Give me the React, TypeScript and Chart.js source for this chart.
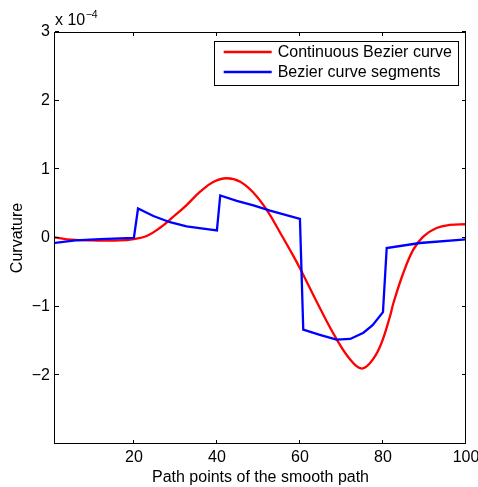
import React, { useEffect, useRef } from "react";
import { Chart, registerables } from "chart.js";
Chart.register(...registerables);

// values in units of 1e-4
const redX = [1, 5, 10, 16.7, 20, 23.1, 26.3, 29.5, 32.7, 35.9, 39.1, 42.3, 45.6, 48.8, 52, 55.2, 58.4, 60, 64.8, 68.8, 72.1, 74.7, 76.9, 79.3, 81.7, 82.5, 84.9, 87.3, 89.7, 92.9, 96.1, 100];
const redY = [0.01, -0.025, -0.035, -0.035, -0.015, 0.03, 0.15, 0.31, 0.48, 0.67, 0.815, 0.87, 0.82, 0.66, 0.41, 0.08, -0.26, -0.44, -1.02, -1.47, -1.77, -1.9, -1.82, -1.58, -1.14, -0.95, -0.51, -0.17, 0.02, 0.145, 0.19, 0.2];

const blueX = [1, 6, 11.8, 20, 21, 24.7, 28.7, 32.7, 36.7, 40, 40.8, 44.8, 48.8, 52.8, 60, 60.8, 64.8, 68.8, 72.1, 75.3, 77.5, 80, 80.9, 88.9, 100];
const blueY = [-0.07, -0.035, -0.015, 0.0, 0.43, 0.32, 0.23, 0.17, 0.135, 0.11, 0.62, 0.54, 0.475, 0.4, 0.28, -1.335, -1.41, -1.48, -1.47, -1.38, -1.27, -1.08, -0.146, -0.073, -0.02];

const xTicks = [20, 40, 60, 80, 100];
const yTicks = [-3, -2, -1, 0, 1, 2, 3];
const seriesNames = ["Continuous Bezier curve", "Bezier curve segments"];
const seriesColors = ["#ff0000", "#0000ff"];
const xTitle = "Path points of the smooth path";
const yTitle = "Curvature";

const FONT = "'Liberation Sans', Arial, Helvetica, sans-serif";

const decorPlugin = {
  id: "decor",
  afterDraw(chart: any) {
    const ctx = chart.ctx;
    const { left, right, top, bottom } = chart.chartArea;
    const xs = chart.scales.x;
    const ys = chart.scales.y;
    ctx.save();
    ctx.strokeStyle = "#000";
    ctx.lineWidth = 1;
    ctx.strokeRect(left - 0.5, top + 0.5, right - left, bottom - top - 1);
    ctx.beginPath();
    for (const v of xTicks) {
      const p = Math.round(xs.getPixelForValue(v)) - 0.5;
      ctx.moveTo(p, bottom);
      ctx.lineTo(p, bottom - 4);
      ctx.moveTo(p, top);
      ctx.lineTo(p, top + 4);
    }
    for (const v of yTicks) {
      const p = Math.round(ys.getPixelForValue(v)) - 0.5;
      ctx.moveTo(left, p);
      ctx.lineTo(left + 4, p);
      ctx.moveTo(right, p);
      ctx.lineTo(right - 4, p);
    }
    ctx.stroke();

    // exponent label
    ctx.fillStyle = "#000";
    ctx.textBaseline = "alphabetic";
    ctx.textAlign = "left";
    ctx.font = "16px " + FONT;
    ctx.fillText("x 10", left, 25);
    const w = ctx.measureText("x 10").width;
    ctx.font = "10.5px " + FONT;
    ctx.fillText("\u22124", left + w + 0.5, 18);

    // legend
    ctx.font = "16px " + FONT;
    const tw = Math.max(...seriesNames.map((s) => ctx.measureText(s).width));
    const boxW = 64 + tw + 6;
    const boxRight = right - 8;
    const boxLeft = boxRight - boxW;
    const boxTop = top + 9;
    const boxH = 44;
    ctx.fillStyle = "#fff";
    ctx.fillRect(boxLeft, boxTop, boxW, boxH);
    ctx.strokeStyle = "#000";
    ctx.lineWidth = 1;
    ctx.strokeRect(Math.round(boxLeft) + 0.5, boxTop + 0.5, Math.round(boxW), boxH);
    seriesNames.forEach((name, i) => {
      const y = boxTop + 11 + i * 20;
      ctx.strokeStyle = seriesColors[i];
      ctx.lineWidth = 2.3;
      ctx.beginPath();
      ctx.moveTo(boxLeft + 10, y);
      ctx.lineTo(boxLeft + 58, y);
      ctx.stroke();
      ctx.fillStyle = "#000";
      ctx.textBaseline = "middle";
      ctx.fillText(name, boxLeft + 64, y + 1);
    });
    ctx.restore();
  },
};

export default function App() {
  const ref = useRef<HTMLCanvasElement>(null);
  useEffect(() => {
    document.body.style.margin = "0";
    const redData = redX.map((x, i) => ({ x, y: redY[i] }));
    const blueData = blueX.map((x, i) => ({ x, y: blueY[i] }));
    const chart = new Chart(ref.current!, {
      type: "line",
      data: {
        datasets: [
          {
            label: seriesNames[0],
            data: redData,
            borderColor: seriesColors[0],
            borderWidth: 2.3,
            pointRadius: 0,
            tension: 0.4,
            order: 1,
          },
          {
            label: seriesNames[1],
            data: blueData,
            borderColor: seriesColors[1],
            borderWidth: 2.3,
            pointRadius: 0,
            tension: 0,
            order: 0,
          },
        ],
      },
      options: {
        animation: false,
        responsive: false,
        maintainAspectRatio: false,
        layout: { padding: { left: 0, top: 32, right: 12, bottom: 0 } },
        plugins: { legend: { display: false }, tooltip: { enabled: false } },
        scales: {
          x: {
            type: "linear",
            min: 1,
            max: 100,
            grid: { display: false, drawTicks: false },
            border: { display: false },
            afterBuildTicks: (s: any) => {
              s.ticks = xTicks.map((v) => ({ value: v }));
            },
            afterFit: (s: any) => {
              s.height = 43;
              s.paddingLeft = 0;
              s.paddingRight = 0;
            },
            ticks: {
              color: "#000",
              font: { family: FONT, size: 16 },
              padding: 4,
              maxRotation: 0,
              autoSkip: false,
              callback: (v: any) => String(v),
            },
            title: {
              display: true,
              text: xTitle,
              color: "#000",
              font: { family: FONT, size: 16 },
              padding: { top: 0, bottom: 0 },
            },
          },
          y: {
            min: -3,
            max: 3,
            grid: { display: false, drawTicks: false },
            border: { display: false },
            afterBuildTicks: (s: any) => {
              s.ticks = yTicks.map((v) => ({ value: v }));
            },
            afterFit: (s: any) => {
              s.width = 55;
              s.paddingTop = 0;
              s.paddingBottom = 0;
            },
            ticks: {
              color: "#000",
              font: { family: FONT, size: 16 },
              padding: 5,
              autoSkip: false,
              callback: (v: any) => (v === -3 ? "" : v < 0 ? "\u2212" + Math.abs(v) : String(v)),
            },
            title: {
              display: true,
              text: yTitle,
              color: "#000",
              font: { family: FONT, size: 16 },
              padding: { top: 8, bottom: 0 },
            },
          },
        },
      },
      plugins: [decorPlugin],
    } as any);
    return () => chart.destroy();
  }, []);
  return (
    <div style={{ position: "absolute", left: 0, top: 0, width: 478, height: 487 }}>
      <canvas ref={ref} width={478} height={487} style={{ width: 478, height: 487 }} />
    </div>
  );
}
